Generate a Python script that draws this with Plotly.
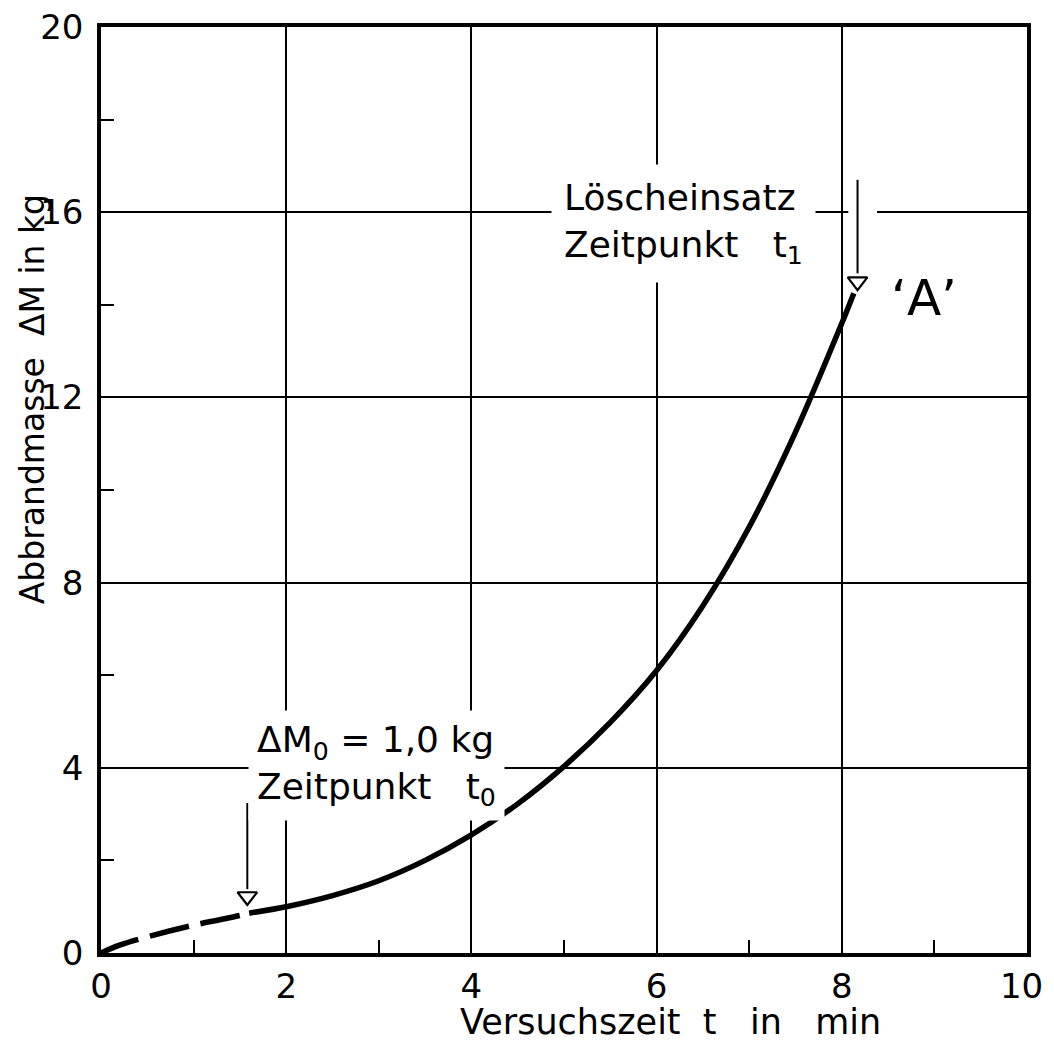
import plotly.graph_objects as go

# --- data ---
t_dashed = [0.0, 0.2, 0.5, 1.0, 1.5, 1.6]
m_dashed = [0.0, 0.17, 0.35, 0.60, 0.81, 0.86]

t_solid = [1.6, 2.0, 2.5, 3.0, 3.5, 4.0, 4.5, 5.0, 5.5, 6.0, 6.5, 7.0, 7.5, 8.0, 8.13]
m_solid = [0.86, 1.0, 1.24, 1.56, 2.0, 2.55, 3.22, 4.03, 4.98, 6.1, 7.5, 9.2, 11.25, 13.6, 14.25]

x_ticks = [0, 2, 4, 6, 8, 10]
x_tick_labels = ["0", "2", "4", "6", "8", "10"]
y_ticks = [0, 4, 8, 12, 16, 20]
y_tick_labels = ["0", "4", "8", "12", "16", "20"]
x_minor = [1, 3, 5, 7, 9]
y_minor = [2, 6, 10, 14, 18]

# arrow markers (t, shaft top, triangle top, triangle centre)
arrow_t = [1.58, 8.17]
arrow_top = [3.24, 16.7]
arrow_head_top = [1.38, 14.68]
arrow_head_mid = [1.22, 14.5]

FONT = "DejaVu Sans"
NB = "\u00a0"

fig = go.Figure()

fig.add_trace(go.Scatter(x=t_dashed, y=m_dashed, mode="lines",
                         line=dict(color="black", width=5.5, dash="40px,12px", shape="spline"),
                         showlegend=False, hoverinfo="skip"))
fig.add_trace(go.Scatter(x=t_solid, y=m_solid, mode="lines",
                         line=dict(color="black", width=5.5, shape="spline", smoothing=0.8),
                         showlegend=False, hoverinfo="skip"))

# arrow heads (open triangles)
fig.add_trace(go.Scatter(x=arrow_t, y=arrow_head_mid, mode="markers",
                         marker=dict(symbol="triangle-down-open", size=17,
                                     color="black", line=dict(width=2.2, color="black")),
                         showlegend=False, hoverinfo="skip"))

shapes = []
for t, top, ht in zip(arrow_t, arrow_top, arrow_head_top):
    shapes.append(dict(type="line", x0=t, x1=t, y0=top, y1=ht, xref="x", yref="y",
                       line=dict(color="black", width=2)))
# break of the 16-gridline around the t1 arrow
shapes.append(dict(type="rect", x0=8.07, x1=8.38, y0=15.85, y1=16.15, xref="x", yref="y",
                   fillcolor="white", line=dict(width=0), layer="between"))

annotations = [
    dict(x=5.0, y=16.0, xref="x", yref="y", xanchor="left", yanchor="middle",
         text="Löscheinsatz<br>Zeitpunkt" + NB * 3 + "t<sub>1</sub>",
         showarrow=False, align="left", bgcolor="white", borderpad=12,
         xshift=-13, yshift=-11,
         font=dict(family=FONT, size=36, color="black")),
    dict(x=1.67, y=4.0, xref="x", yref="y", xanchor="left", yanchor="middle",
         text="\u0394M<sub>0</sub> = 1,0 kg<br>Zeitpunkt" + NB * 3 + "t<sub>0</sub>",
         showarrow=False, align="left", bgcolor="white", borderpad=8,
         xshift=-8, yshift=2,
         font=dict(family=FONT, size=36, color="black")),
    dict(x=8.89, y=14.15, xref="x", yref="y", xanchor="center", yanchor="middle",
         text="\u2018A\u2019", showarrow=False,
         font=dict(family=FONT, size=50, color="black")),
    dict(x=0.385, y=-0.0745, xref="paper", yref="paper", xanchor="left", yanchor="middle",
         text="Versuchszeit" + NB * 2 + "t" + NB * 3 + "in" + NB * 3 + "min", showarrow=False,
         font=dict(family=FONT, size=35, color="black")),
    dict(x=-0.0745, y=0.598, xref="paper", yref="paper", xanchor="center", yanchor="middle",
         text="Abbrandmasse" + NB * 2 + "\u0394M" + NB + "in" + NB + "kg", textangle=-90,
         showarrow=False, font=dict(family=FONT, size=33, color="black")),
]

# the page body keeps its default 8px margin, so the figure is sized to fit inside it
fig.update_layout(
    width=1038, height=1032, autosize=False,
    margin=dict(l=93, r=19, t=19, b=87, pad=0),
    paper_bgcolor="white", plot_bgcolor="white",
    shapes=shapes, annotations=annotations,
    font=dict(family=FONT, size=34, color="black"),
)

fig.update_xaxes(range=[0, 10], tickvals=x_ticks,
                 ticktext=[lab + (NB if lab == "10" else "") for lab in x_tick_labels],
                 showgrid=True, gridcolor="black", gridwidth=1.5,
                 showline=True, linecolor="black", linewidth=3.5, mirror=True,
                 zeroline=False, ticks="", ticklabelstandoff=0, automargin=False,
                 ticklabeloverflow="allow",
                 tickfont=dict(family=FONT, size=34, color="black"),
                 minor=dict(tickvals=x_minor, ticks="inside", ticklen=13, tickwidth=1.5,
                            tickcolor="black", showgrid=False))
fig.update_yaxes(range=[0, 20], tickvals=y_ticks, ticktext=y_tick_labels,
                 showgrid=True, gridcolor="black", gridwidth=1.5,
                 showline=True, linecolor="black", linewidth=3.5, mirror=True,
                 zeroline=False, ticks="", ticklabelstandoff=7, automargin=False,
                 ticklabeloverflow="allow",
                 tickfont=dict(family=FONT, size=34, color="black"),
                 minor=dict(tickvals=y_minor, ticks="inside", ticklen=13, tickwidth=1.5,
                            tickcolor="black", showgrid=False))

fig.write_html("out.html")
